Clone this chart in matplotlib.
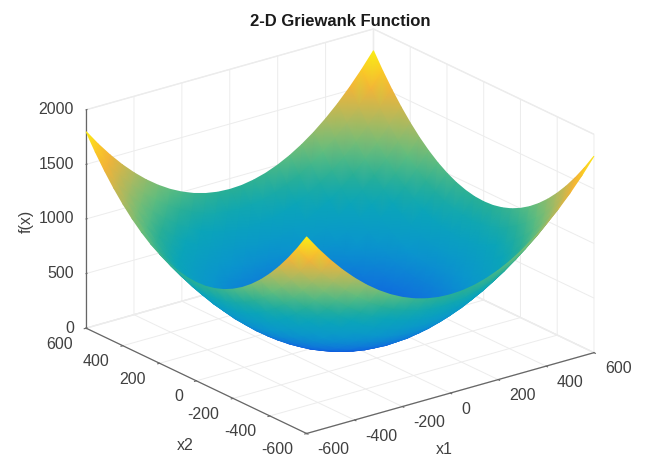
import numpy as np
import matplotlib
matplotlib.use("Agg")
import matplotlib.pyplot as plt
from matplotlib.colors import LinearSegmentedColormap
from matplotlib.tri import Triangulation
from mpl_toolkits.mplot3d import proj3d

plt.rcParams['font.family'] = ['Liberation Sans', 'DejaVu Sans']
plt.rcParams['axes.unicode_minus'] = False

title = "2-D Griewank Function"
x_quadrant = [0, 50, 100, 150, 200, 250, 300, 350, 400, 450, 500, 550, 600]
z_quadrant = [
    [0, 6, 25, 56, 100, 156, 225, 306, 400, 506, 625, 756, 900],
    [6, 13, 31, 63, 106, 163, 231, 313, 406, 513, 631, 763, 906],
    [25, 31, 50, 81, 125, 181, 250, 331, 425, 531, 650, 781, 925],
    [56, 63, 81, 113, 156, 213, 281, 363, 456, 563, 681, 813, 956],
    [100, 106, 125, 156, 200, 256, 325, 406, 500, 606, 725, 856, 1000],
    [156, 163, 181, 213, 256, 313, 381, 463, 556, 663, 781, 913, 1056],
    [225, 231, 250, 281, 325, 381, 450, 531, 625, 731, 850, 981, 1125],
    [306, 313, 331, 363, 406, 463, 531, 613, 706, 813, 931, 1063, 1206],
    [400, 406, 425, 456, 500, 556, 625, 706, 800, 906, 1025, 1156, 1300],
    [506, 513, 531, 563, 606, 663, 731, 813, 906, 1013, 1131, 1263, 1406],
    [625, 631, 650, 681, 725, 781, 850, 931, 1025, 1131, 1250, 1381, 1525],
    [756, 763, 781, 813, 856, 913, 981, 1063, 1156, 1263, 1381, 1513, 1656],
    [900, 906, 925, 956, 1000, 1056, 1125, 1206, 1300, 1406, 1525, 1656, 1800],
]
xy_ticks = [-600, -400, -200, 0, 200, 400, 600]
z_ticks = [0, 500, 1000, 1500, 2000]

stops = [0, 0.12, 0.25, 0.4, 0.5, 0.6, 0.72, 0.85, 0.93, 1.0]
rgb = [(10, 70, 225), (15, 115, 220), (10, 150, 205), (10, 165, 185), (40, 175, 150),
       (100, 190, 125), (175, 185, 95), (245, 180, 55), (253, 205, 35), (250, 240, 20)]
parula = LinearSegmentedColormap.from_list(
    "parula", [(s, tuple(v / 255 for v in c)) for s, c in zip(stops, rgb)])

q = np.array(x_quadrant, dtype=float)
axis_vals = np.r_[-q[:0:-1], q]
Q = np.array(z_quadrant, dtype=float)
Z = np.vstack([Q[:0:-1], Q])
Z = np.hstack([Z[:, :0:-1], Z])
X, Y = np.meshgrid(axis_vals, axis_vals)

W, H = 645, 462
fig = plt.figure(figsize=(W / 100, H / 100), dpi=100)
ax = fig.add_axes([0.0175, -0.014, 1, 1], projection='3d', proj_type='ortho')
ax.view_init(elev=21.5, azim=-127.5)
ax.set_box_aspect((1, 1, 0.648), zoom=1.184)

ax.set_xlim(-600, 600, view_margin=0)
ax.set_ylim(-600, 600, view_margin=0)
ax.set_zlim(0, 2000, view_margin=0)
ax.set_xticks(xy_ticks); ax.set_yticks(xy_ticks); ax.set_zticks(z_ticks)
ax.set_xticklabels([]); ax.set_yticklabels([]); ax.set_zticklabels([])
for axis in (ax.xaxis, ax.yaxis, ax.zaxis):
    axis.set_pane_color((1, 1, 1, 1))
    axis.pane.set_edgecolor('#ececec')
    axis.line.set_color('#666666')
    axis.line.set_linewidth(0.9)
    axis._axinfo['grid'].update(color='#ececec', linewidth=0.7)
    axis._axinfo['tick'].update(inward_factor=0.08, outward_factor=0.0)
ax.zaxis._axinfo['tick'].update(inward_factor=0.0, outward_factor=0.04)
ax.tick_params(colors='#666666')
ax.set_xlabel(''); ax.set_ylabel(''); ax.set_zlabel('')

fig.canvas.draw()
M = ax.get_proj()


def to_pixels(xs, ys, zs):
    px, py, pz = proj3d.proj_transform(np.asarray(xs, float), np.asarray(ys, float),
                                       np.asarray(zs, float), M)
    return ax.transData.transform(np.column_stack([px, py])), pz


# Overlay in pixel coordinates, holds the smooth surface and the axis texts.
over = fig.add_axes([0, 0, 1, 1], frameon=False)
over.axis('off')

# Smoothly shaded surface: project through the 3-D axes, paint back to front.
pix, pz = to_pixels(X.ravel(), Y.ravel(), Z.ravel())
n = X.shape[0]
idx = np.arange(n * n).reshape(n, n)
a, b, c, d = idx[:-1, :-1].ravel(), idx[:-1, 1:].ravel(), idx[1:, 1:].ravel(), idx[1:, :-1].ravel()
tris = np.vstack([np.column_stack([a, b, c]), np.column_stack([a, c, d])])
tris = tris[np.argsort(-pz[tris].mean(axis=1))]
over.tripcolor(Triangulation(pix[:, 0], pix[:, 1], tris), Z.ravel(), shading='gouraud',
               cmap=parula, vmin=0, vmax=1800)
over.set_xlim(0, W); over.set_ylim(0, H)

tick_style = dict(fontsize=11.5, color='#404040', va='center')
n_xy = len(xy_ticks)
xpix, _ = to_pixels(xy_ticks, [-600] * n_xy, [0] * n_xy)
for v, (px_x, px_y) in zip(xy_ticks, xpix):
    over.text(px_x + 11, px_y - 16, str(v), ha='left', **tick_style)
ypix, _ = to_pixels([-600] * n_xy, xy_ticks, [0] * n_xy)
for v, (px_x, px_y) in zip(xy_ticks, ypix):
    over.text(px_x - 13.5, px_y - 16, str(v), ha='right', **tick_style)
zpix, _ = to_pixels([-600] * len(z_ticks), [600] * len(z_ticks), z_ticks)
for v, (px_x, px_y) in zip(z_ticks, zpix):
    over.text(px_x - 12, px_y, str(v), ha='right', **tick_style)

for s, px_x, px_y, rot in [('x1', 444, 450, 0), ('x2', 185, 445, 0), ('f(x)', 26, 221, 90)]:
    over.text(px_x, H - px_y, s, ha='center', va='center', rotation=rot,
              fontsize=11.5, color='#404040')
over.text(340, H - 22, title, ha='center', va='center', fontsize=12,
          fontweight='bold', color='#1a1a1a')
fig.savefig('out.png', dpi=100)
